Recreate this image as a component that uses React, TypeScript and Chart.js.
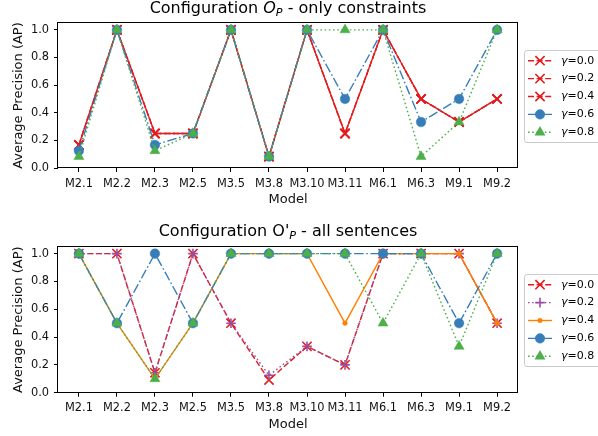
import React, { useEffect, useRef } from 'react';
import { Chart, registerables } from 'chart.js';

Chart.register(...registerables);

// ---------- data ----------
const categories = ['M2.1', 'M2.2', 'M2.3', 'M2.5', 'M3.5', 'M3.8', 'M3.10', 'M3.11', 'M6.1', 'M6.3', 'M9.1', 'M9.2'];
const gammas = ['0.0', '0.2', '0.4', '0.6', '0.8'];
const yTicks = [0, 0.2, 0.4, 0.6, 0.8, 1.0];

// Configuration O_P - only constraints
const onlyG00 = [0.167, 1, 0.25, 0.25, 1, 0.083, 1, 0.25, 1, 0.5, 0.333, 0.5];
const onlyG02 = [0.167, 1, 0.25, 0.25, 1, 0.083, 1, 0.25, 1, 0.5, 0.333, 0.5];
const onlyG04 = [0.167, 1, 0.25, 0.25, 1, 0.083, 1, 0.25, 1, 0.5, 0.333, 0.5];
const onlyG06 = [0.125, 1, 0.167, 0.25, 1, 0.083, 1, 0.5, 1, 0.333, 0.5, 1];
const onlyG08 = [0.083, 1, 0.125, 0.25, 1, 0.083, 1, 1, 1, 0.083, 0.333, 1];

// Configuration O'_P - all sentences
const allG00 = [1, 1, 0.143, 1, 0.5, 0.091, 0.333, 0.2, 1, 1, 1, 0.5];
const allG02 = [1, 1, 0.143, 1, 0.5, 0.125, 0.333, 0.2, 1, 1, 1, 0.5];
const allG04 = [1, 0.5, 0.1, 0.5, 1, 1, 1, 0.5, 1, 1, 1, 0.5];
const allG06 = [1, 0.5, 1, 0.5, 1, 1, 1, 1, 1, 1, 0.5, 1];
const allG08 = [1, 0.5, 0.1, 0.5, 1, 1, 1, 1, 0.5, 1, 0.333, 1];

// ---------- styles ----------
const FONT = "'DejaVu Sans', 'Liberation Sans', sans-serif";
const RED = '#e41a1c';
const BLUE = '#377eb8';
const GREEN = '#4daf4a';
const PURPLE = '#984ea3';
const ORANGE = '#ff7f00';
const TEXT = '#111111';
const TICK_SIZE = 11.4;

type Marker = 'x' | 'plus' | 'circle' | 'triangle' | 'dot';
interface SeriesStyle { color: string; marker: Marker; dash: number[]; dashOffset: number; }

const DASHED = [6, 2.6];
const DOTTED = [1.6, 2.6];
const DASHDOT = [9.5, 2.6, 1.6, 2.6];
const LINE_W = 1.4;

const topStyles: SeriesStyle[] = [
  { color: RED, marker: 'x', dash: DASHED, dashOffset: 0 },
  { color: RED, marker: 'x', dash: DASHED, dashOffset: 4 },
  { color: RED, marker: 'x', dash: DASHED, dashOffset: 0 },
  { color: BLUE, marker: 'circle', dash: DASHDOT, dashOffset: 0 },
  { color: GREEN, marker: 'triangle', dash: DOTTED, dashOffset: 0 },
];
const bottomStyles: SeriesStyle[] = [
  { color: RED, marker: 'x', dash: DASHED, dashOffset: 0 },
  { color: PURPLE, marker: 'plus', dash: DOTTED, dashOffset: 0 },
  { color: ORANGE, marker: 'dot', dash: [], dashOffset: 0 },
  { color: BLUE, marker: 'circle', dash: DASHDOT, dashOffset: 0 },
  { color: GREEN, marker: 'triangle', dash: DOTTED, dashOffset: 0 },
];

function markerProps(m: Marker) {
  switch (m) {
    case 'x': return { pointStyle: 'crossRot', radius: 6.5, borderWidth: 1.6 };
    case 'plus': return { pointStyle: 'cross', radius: 4.8, borderWidth: 1.6 };
    case 'circle': return { pointStyle: 'circle', radius: 4.8, borderWidth: 0.5 };
    case 'triangle': return { pointStyle: 'triangle', radius: 5.8, borderWidth: 0.5 };
    default: return { pointStyle: 'circle', radius: 2.3, borderWidth: 0.5 };
  }
}

function drawMarker(ctx: CanvasRenderingContext2D, m: Marker, x: number, y: number, color: string) {
  const p = markerProps(m);
  const r = p.radius;
  ctx.save();
  ctx.setLineDash([]);
  ctx.strokeStyle = color;
  ctx.fillStyle = color;
  ctx.lineWidth = p.borderWidth;
  ctx.beginPath();
  if (m === 'x') {
    const d = r * Math.SQRT1_2;
    ctx.moveTo(x - d, y - d); ctx.lineTo(x + d, y + d);
    ctx.moveTo(x - d, y + d); ctx.lineTo(x + d, y - d);
    ctx.stroke();
  } else if (m === 'plus') {
    ctx.moveTo(x - r, y); ctx.lineTo(x + r, y);
    ctx.moveTo(x, y - r); ctx.lineTo(x, y + r);
    ctx.stroke();
  } else if (m === 'triangle') {
    for (let k = 0; k < 3; k++) {
      const a = (k * 2 * Math.PI) / 3;
      const px = x + Math.sin(a) * r;
      const py = y - Math.cos(a) * r;
      if (k === 0) ctx.moveTo(px, py); else ctx.lineTo(px, py);
    }
    ctx.closePath();
    ctx.fill();
    ctx.stroke();
  } else {
    ctx.arc(x, y, r, 0, Math.PI * 2);
    ctx.fill();
    ctx.stroke();
  }
  ctx.restore();
}

interface TitlePart { text: string; italic?: boolean; sub?: boolean; }

interface PanelProps {
  series: number[][];
  styles: SeriesStyle[];
  title: TitlePart[];
  padTop: number;
  xAxisHeight: number;
  xTitlePadBottom: number;
}

const W = 598;
const H = 218;

function Panel({ series, styles, title, padTop, xAxisHeight, xTitlePadBottom }: PanelProps) {
  const ref = useRef<HTMLCanvasElement>(null);

  useEffect(() => {
    const canvas = ref.current;
    if (!canvas) return;
    const n = series.length;

    const framePlugin = {
      id: 'frame',
      afterDatasetsDraw(chart: any) {
        const { ctx, chartArea } = chart;
        ctx.save();
        ctx.strokeStyle = '#000';
        ctx.lineWidth = 1;
        ctx.setLineDash([]);
        const l = Math.round(chartArea.left) - 0.5;
        const t = Math.round(chartArea.top) - 0.5;
        const r = Math.round(chartArea.right) - 0.5;
        const b = Math.round(chartArea.bottom) - 0.5;
        ctx.strokeRect(l, t, r - l, b - t);
        ctx.restore();
      },
    };

    const titlePlugin = {
      id: 'mplTitle',
      afterDraw(chart: any) {
        const { ctx, chartArea } = chart;
        const main = 16;
        const sub = 11.2;
        const fontFor = (p: TitlePart) => `${p.italic ? 'italic ' : ''}${p.sub ? sub : main}px ${FONT}`;
        ctx.save();
        ctx.fillStyle = '#000';
        ctx.textAlign = 'left';
        ctx.textBaseline = 'alphabetic';
        const widths = title.map((p) => { ctx.font = fontFor(p); return ctx.measureText(p.text).width; });
        const total = widths.reduce((a, b) => a + b, 0);
        let x = (chartArea.left + chartArea.right) / 2 - total / 2;
        const baseY = chartArea.top - 10.3;
        title.forEach((p, i) => {
          ctx.font = fontFor(p);
          ctx.fillText(p.text, x, baseY + (p.sub ? 2.8 : 0));
          x += widths[i];
        });
        ctx.restore();
      },
    };

    const legendPlugin = {
      id: 'mplLegend',
      afterDraw(chart: any) {
        const { ctx, chartArea } = chart;
        const cy = (chartArea.top + chartArea.bottom) / 2;
        const boxH = 92;
        const top = Math.round(cy - boxH / 2) + 0.5;
        const left = 524.5;
        ctx.save();
        ctx.beginPath();
        ctx.roundRect(left, top, 90, boxH, 2.5);
        ctx.fillStyle = 'rgba(255,255,255,0.85)';
        ctx.fill();
        ctx.strokeStyle = '#cccccc';
        ctx.lineWidth = 1;
        ctx.stroke();
        styles.forEach((s, i) => {
          const y = top + 10.2 + i * 17.9;
          ctx.save();
          ctx.strokeStyle = s.color;
          ctx.lineWidth = LINE_W;
          ctx.setLineDash(s.dash);
          ctx.lineDashOffset = 0;
          ctx.beginPath();
          ctx.moveTo(528, y);
          ctx.lineTo(552, y);
          ctx.stroke();
          ctx.restore();
          drawMarker(ctx, s.marker, 540, y, s.color);
          ctx.fillStyle = '#000';
          ctx.textBaseline = 'middle';
          ctx.textAlign = 'left';
          ctx.font = `italic 11px ${FONT}`;
          ctx.fillText('γ', 561, y);
          const gw = ctx.measureText('γ').width;
          ctx.font = `11px ${FONT}`;
          ctx.fillText('=' + gammas[i], 561 + gw, y);
        });
        ctx.restore();
      },
    };

    const chart = new Chart(canvas, {
      type: 'line',
      data: {
        datasets: series.map((vals, i) => {
          const s = styles[i];
          const mp = markerProps(s.marker);
          return {
            label: 'γ=' + gammas[i],
            data: vals.map((v, j) => ({ x: j, y: v })),
            borderColor: s.color,
            backgroundColor: s.color,
            borderWidth: LINE_W,
            borderDash: s.dash,
            borderDashOffset: s.dashOffset,
            pointStyle: mp.pointStyle as any,
            pointRadius: mp.radius,
            pointHoverRadius: mp.radius,
            pointBorderWidth: mp.borderWidth,
            pointBackgroundColor: s.color,
            pointBorderColor: s.color,
            fill: false,
            tension: 0,
            order: n - i,
          };
        }),
      },
      options: {
        animation: false,
        responsive: false,
        devicePixelRatio: 1,
        events: [],
        layout: { padding: { left: 0, right: 80, top: padTop, bottom: 0 } },
        plugins: {
          legend: { display: false },
          title: { display: false },
          tooltip: { enabled: false },
        },
        scales: {
          x: {
            type: 'linear',
            min: -0.55,
            max: categories.length - 1 + 0.55,
            afterBuildTicks: (s: any) => { s.ticks = categories.map((_, i) => ({ value: i })); },
            afterFit: (s: any) => { s.height = xAxisHeight; },
            ticks: {
              autoSkip: false,
              maxRotation: 0,
              minRotation: 0,
              padding: 5,
              color: TEXT,
              font: { family: FONT, size: TICK_SIZE },
              callback: (v: any) => categories[Math.round(Number(v))],
            },
            grid: { display: true, drawOnChartArea: false, drawTicks: true, tickLength: 4, color: '#000', tickColor: '#000', tickWidth: 1 },
            border: { display: false },
            title: { display: true, text: 'Model', color: TEXT, font: { family: FONT, size: 13 }, padding: { top: 0, bottom: xTitlePadBottom } },
          },
          y: {
            type: 'linear',
            min: 0,
            max: 1.05,
            afterBuildTicks: (s: any) => { s.ticks = yTicks.map((v) => ({ value: v })); },
            afterFit: (s: any) => { s.width = 58; },
            ticks: {
              padding: 5,
              color: TEXT,
              font: { family: FONT, size: TICK_SIZE },
              callback: (v: any) => Number(v).toFixed(1),
            },
            grid: { display: true, drawOnChartArea: false, drawTicks: true, tickLength: 4, color: '#000', tickColor: '#000', tickWidth: 1 },
            border: { display: false },
            title: { display: true, text: 'Average Precision (AP)', color: TEXT, font: { family: FONT, size: 13 }, padding: { top: 10.5, bottom: 0 } },
          },
        },
      } as any,
      plugins: [framePlugin, titlePlugin, legendPlugin],
    });

    return () => { chart.destroy(); };
  }, []);

  return <canvas ref={ref} width={W} height={H} style={{ display: 'block', width: W, height: H }} />;
}

export default function App() {
  return (
    <div style={{ position: 'absolute', left: 0, top: 0, width: 598, height: 436, background: '#fff', overflow: 'hidden' }}>
      <Panel
        series={[onlyG00, onlyG02, onlyG04, onlyG06, onlyG08]}
        styles={topStyles}
        title={[
          { text: 'Configuration ' },
          { text: 'O', italic: true },
          { text: 'P', italic: true, sub: true },
          { text: ' - only constraints' },
        ]}
        padTop={23}
        xAxisHeight={50}
        xTitlePadBottom={11}
      />
      <Panel
        series={[allG00, allG02, allG04, allG06, allG08]}
        styles={bottomStyles}
        title={[
          { text: "Configuration O'" },
          { text: 'P', italic: true, sub: true },
          { text: ' - all sentences' },
        ]}
        padTop={28.7}
        xAxisHeight={43.3}
        xTitlePadBottom={3.3}
      />
    </div>
  );
}
